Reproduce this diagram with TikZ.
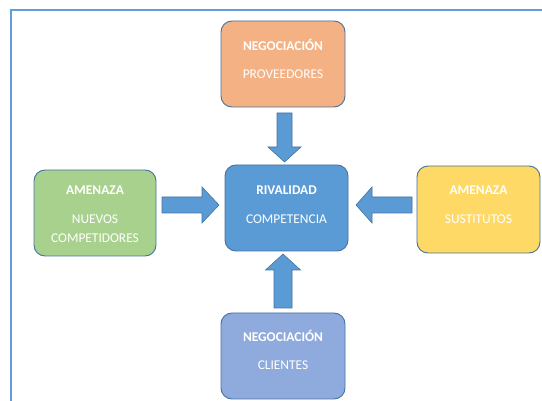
\documentclass[tikz,border=0pt]{standalone}
\usepackage{fontspec}
\setmainfont{Carlito}
\usetikzlibrary{calc}
\definecolor{frameblue}{RGB}{98,157,218}
\definecolor{edge}{RGB}{70,114,160}
\definecolor{orangefill}{RGB}{244,177,131}
\definecolor{greenfill}{RGB}{169,209,142}
\definecolor{bluefill}{RGB}{91,155,213}
\definecolor{yellowfill}{RGB}{255,217,102}
\definecolor{lavfill}{RGB}{143,170,220}
\tikzset{
  box/.style={draw=edge, line width=0.9pt, rounded corners=11pt, minimum width=#1, inner sep=0pt, minimum height=86pt},
  ttl/.style={text=white, font=\fontsize{13.4}{19}\selectfont\bfseries, inner sep=0pt, align=center},
  sub/.style={text=white, font=\fontsize{13.4}{19}\selectfont, inner sep=0pt, align=center},
  arr/.style={fill=bluefill, draw=edge, line width=0.6pt, line join=miter}
}
\begin{document}
\begin{tikzpicture}[x=1pt, y=-1pt]
\useasboundingbox (0,0) rectangle (542,401);
% frame
\draw[frameblue, line width=2pt] (10.5,401) -- (10.5,10.5) -- (542,10.5);
% boxes
\node[box=124pt, fill=orangefill] (prov) at (283,64) {};
\node[box=122pt, fill=greenfill] (nuev) at (95,213) {};
\node[box=123pt, fill=bluefill] (riv) at (286.5,208) {};
\node[box=123pt, fill=yellowfill, minimum height=87pt] (sust) at (478.5,209.5) {};
\node[box=124pt, fill=lavfill] (cli) at (283,356) {};
% texts
\node[ttl] (provT) at (283,45) {NEGOCIACIÓN};
\node[sub] (provS) at (283,74) {PROVEEDORES};
\node[ttl] (nuevT) at (95,190) {AMENAZA};
\node[sub, anchor=north] (nuevS) at (95,215) {NUEVOS\\COMPETIDORES};
\node[ttl] (rivT) at (286.5,190) {RIVALIDAD};
\node[sub] (rivS) at (286.5,219) {COMPETENCIA};
\node[ttl] (sustT) at (478.5,190) {AMENAZA};
\node[sub] (sustS) at (478.5,219) {SUSTITUTOS};
\node[ttl] (cliT) at (283,336) {NEGOCIACIÓN};
\node[sub] (cliS) at (283,365) {CLIENTES};
% arrow anchors
\coordinate (a1) at (284.5,113);
\coordinate (a2) at (162,205);
\coordinate (a3) at (412,205);
\coordinate (a4) at (283,308);
% block arrows
\draw[arr] (a1) ++(-7.5,0) -- ++(0,34) -- ++(-9,0) -- ++(16.5,15) -- ++(16.5,-15) -- ++(-9,0) -- ++(0,-34) -- cycle;
\draw[arr] (a2) ++(0,-8) -- ++(40,0) -- ++(0,-10) -- ++(17,18) -- ++(-17,18) -- ++(0,-10) -- ++(-40,0) -- cycle;
\draw[arr] (a3) ++(0,-8) -- ++(-40,0) -- ++(0,-10) -- ++(-16,18) -- ++(16,18) -- ++(0,-10) -- ++(40,0) -- cycle;
\draw[arr] (a4) ++(-9,0) -- ++(0,-38) -- ++(-8.5,0) -- ++(17.5,-16) -- ++(17.5,16) -- ++(-8.5,0) -- ++(0,38) -- cycle;
\end{tikzpicture}
\end{document}
